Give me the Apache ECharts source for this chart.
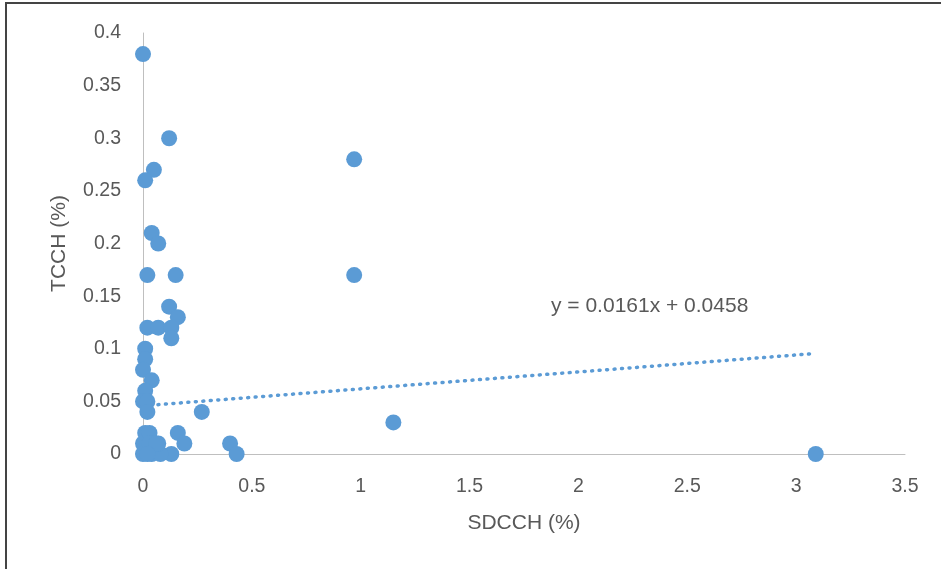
<!DOCTYPE html>
<html>
<head>
<meta charset="utf-8">
<script src="https://cdn.jsdelivr.net/npm/echarts@6/dist/echarts.min.js"></script>
<style>
  html, body { margin: 0; padding: 0; background: #fff; }
  #chart { width: 941px; height: 569px; }
</style>
</head>
<body>
<div id="chart"></div>
<script>
// SDCCH (%) values
var sdcch = [0, 0.12, 0.05, 0.01, 0.04, 0.07, 0.02, 0.15, 0.12, 0.16,
             0.02, 0.07, 0.13, 0.13, 0.01, 0.01, 0, 0.04, 0.01, 0,
             0.02, 0.02, 0.27, 0.97, 0.97, 1.15, 3.09, 0.40, 0.43, 0.16,
             0.19, 0.13, 0, 0.01, 0.03, 0, 0.04, 0.08, 0.07, 0.03, 0.06, 0.02];
// TCCH (%) values
var tcch = [0.38, 0.30, 0.27, 0.26, 0.21, 0.20, 0.17, 0.17, 0.14, 0.13,
            0.12, 0.12, 0.12, 0.11, 0.10, 0.09, 0.08, 0.07, 0.06, 0.05,
            0.05, 0.04, 0.04, 0.28, 0.17, 0.03, 0, 0.01, 0, 0.02,
            0.01, 0, 0.01, 0.02, 0.02, 0, 0, 0, 0.01, 0.01, 0.01, 0];

// linear trendline as printed on the chart
var slope = 0.0161;
var intercept = 0.0458;
var trendRange = [0, 3.09];

var points = sdcch.map(function (x, i) { return [x, tcch[i]]; });
var trend = trendRange.map(function (x) { return [x, slope * x + intercept]; });

var textColor = '#595959';
var font = 'Liberation Sans';

var chart = echarts.init(document.getElementById('chart'));
chart.setOption({
  animation: false,
  grid: { left: 143, right: 36, top: 33, bottom: 115 },
  xAxis: {
    type: 'value', min: 0, max: 3.5, interval: 0.5,
    name: 'SDCCH (%)', nameLocation: 'middle', nameGap: 59,
    nameTextStyle: { color: textColor, fontSize: 21, fontFamily: font },
    axisLine: { show: true, lineStyle: { color: '#bfbfbf', width: 1 } },
    axisTick: { show: false },
    splitLine: { show: false },
    axisLabel: { color: textColor, fontSize: 19.5, fontFamily: font, margin: 23 }
  },
  yAxis: {
    type: 'value', min: 0, max: 0.4, interval: 0.05,
    name: 'TCCH (%)', nameLocation: 'middle', nameGap: 73, nameRotate: 90,
    nameTextStyle: { color: textColor, fontSize: 21, fontFamily: font },
    axisLine: { show: true, lineStyle: { color: '#bfbfbf', width: 1 } },
    axisTick: { show: false },
    splitLine: { show: false },
    axisLabel: { color: textColor, fontSize: 19.5, fontFamily: font, margin: 22 }
  },
  series: [
    {
      type: 'line',
      data: trend,
      showSymbol: false,
      z: 1,
      lineStyle: { color: '#5b9bd5', width: 3.5, type: [1, 6.5], cap: 'round' }
    },
    {
      type: 'scatter',
      data: points,
      symbolSize: 16,
      z: 2,
      itemStyle: { color: '#5b9bd5', opacity: 1 }
    }
  ],
  graphic: [
    {
      type: 'text', left: 551, top: 296,
      style: { text: 'y = 0.0161x + 0.0458', fill: textColor, fontSize: 21, fontFamily: font }
    },
    {
      type: 'line', shape: { x1: 5, y1: 3, x2: 941, y2: 3 },
      style: { stroke: '#444', lineWidth: 2 }
    },
    {
      type: 'line', shape: { x1: 6, y1: 3, x2: 6, y2: 569 },
      style: { stroke: '#444', lineWidth: 2 }
    }
  ]
});
</script>
</body>
</html>
